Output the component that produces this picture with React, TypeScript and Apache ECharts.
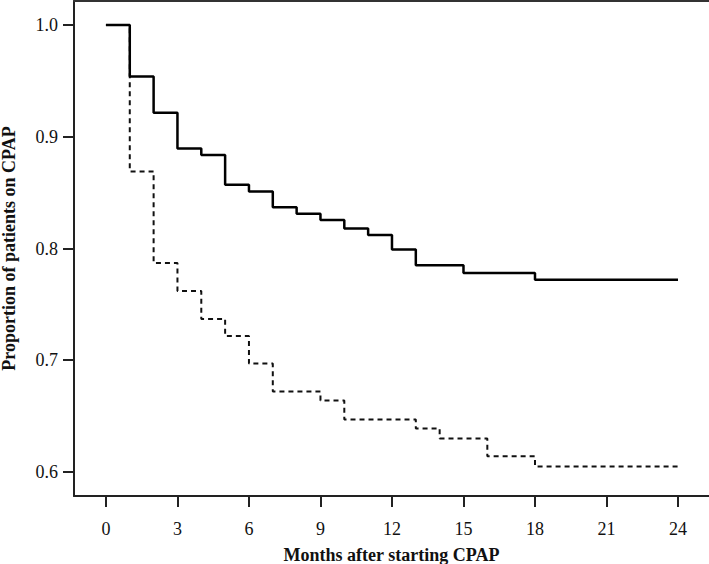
import React, { useEffect, useRef } from "react";
import * as echarts from "echarts";

const xTicks = [0, 3, 6, 9, 12, 15, 18, 21, 24];
const yTicks = [0.6, 0.7, 0.8, 0.9, 1.0];

const solidMonths = [0, 1, 2, 3, 4, 5, 6, 7, 8, 9, 10, 11, 12, 13, 15, 18, 24];
const solidValues = [1.0, 0.954, 0.9215, 0.8896, 0.8836, 0.857, 0.851, 0.837, 0.831, 0.8254, 0.818, 0.812, 0.7992, 0.785, 0.778, 0.772, 0.772];

const dashedMonths = [0, 1, 2, 3, 4, 5, 6, 7, 9, 10, 13, 14, 16, 18, 24];
const dashedValues = [1.0, 0.869, 0.787, 0.762, 0.737, 0.7216, 0.697, 0.672, 0.664, 0.647, 0.639, 0.63, 0.614, 0.605, 0.605];

const FONT = "'Liberation Serif', 'Times New Roman', serif";

export default function App() {
  const ref = useRef<HTMLDivElement>(null);
  useEffect(() => {
    document.body.style.margin = "0";
    if (!ref.current) return;
    const chart = echarts.init(ref.current, null, { renderer: "svg" });
    chart.setOption({
      animation: false,
      backgroundColor: "#fff",
      grid: { left: 74, right: 0, top: 1, bottom: 68, containLabel: false, outerBoundsMode: "none" },
      xAxis: [
        {
          type: "value",
          min: -1.34,
          max: 25.3,
          position: "bottom",
          name: "Months after starting CPAP",
          nameLocation: "middle",
          nameGap: 50,
          nameTextStyle: { fontFamily: FONT, fontSize: 18, fontWeight: "bold", color: "#111" },
          axisLine: { show: true, onZero: false, lineStyle: { color: "#222", width: 2 } },
          axisTick: { show: true, length: 11, customValues: xTicks, lineStyle: { color: "#222", width: 2 } },
          axisLabel: { customValues: xTicks, fontFamily: FONT, fontSize: 18, color: "#111", margin: 24 },
          splitLine: { show: false },
        },
        {
          type: "value",
          min: -1.34,
          max: 25.3,
          position: "top",
          axisLine: { show: true, onZero: false, lineStyle: { color: "#333", width: 2 } },
          axisTick: { show: false },
          axisLabel: { show: false },
          splitLine: { show: false },
        },
      ],
      yAxis: {
        type: "value",
        min: 0.5785,
        max: 1.0215,
        name: "Proportion of patients on CPAP",
        nameLocation: "middle",
        nameGap: 56,
        nameTextStyle: { fontFamily: FONT, fontSize: 18, fontWeight: "bold", color: "#111" },
        axisLine: { show: true, onZero: false, lineStyle: { color: "#222", width: 2 } },
        axisTick: { show: true, length: 11, customValues: yTicks, lineStyle: { color: "#222", width: 2 } },
        axisLabel: {
          customValues: yTicks,
          fontFamily: FONT,
          fontSize: 18,
          color: "#111",
          margin: 16,
          formatter: (v: number) => v.toFixed(1),
        },
        splitLine: { show: false },
      },
      series: [
        {
          type: "line",
          step: "end",
          xAxisIndex: 0,
          symbol: "none",
          data: dashedMonths.map((m, i) => [m, dashedValues[i]]),
          lineStyle: { color: "#111", width: 2, type: [5, 4] },
          z: 2,
        },
        {
          type: "line",
          step: "end",
          xAxisIndex: 0,
          symbol: "none",
          data: solidMonths.map((m, i) => [m, solidValues[i]]),
          lineStyle: { color: "#000", width: 2.5 },
          z: 3,
        },
      ],
    });
    return () => chart.dispose();
  }, []);
  return <div ref={ref} style={{ width: 709, height: 564 }} />;
}
